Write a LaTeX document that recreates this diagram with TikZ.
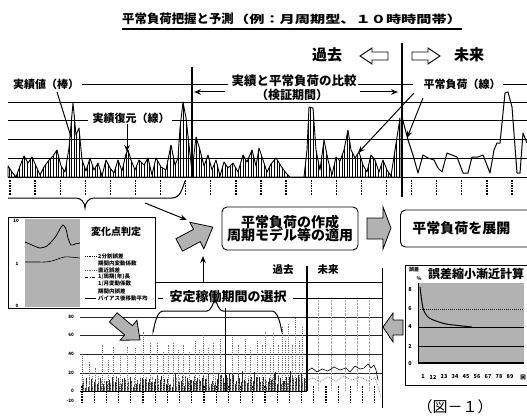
\documentclass[tikz,border=0pt]{standalone}
\usepackage{fontspec}
\setmainfont{Noto Sans CJK JP}
\usetikzlibrary{arrows.meta,patterns}
\pgfdeclarepatternformonly{vbars}{\pgfqpoint{0pt}{-1pt}}{\pgfqpoint{2.6pt}{11pt}}{\pgfqpoint{2.6pt}{10pt}}{\pgfsetlinewidth{0.75pt}\pgfpathmoveto{\pgfqpoint{1.3pt}{-1pt}}\pgfpathlineto{\pgfqpoint{1.3pt}{11pt}}\pgfusepath{stroke}}
\newcommand\fsz[1]{\fontsize{#1}{#1}\selectfont}
\begin{document}
\begin{tikzpicture}[x=1pt,y=-1pt,
  lbl/.style={inner sep=0.5pt,font=\fsz{11}\bfseries},
  gridl/.style={line width=0.6pt},
  tickm/.style={line width=1.3pt,dash pattern=on 1.6pt off 1pt},
  hollow/.style={draw,line width=0.9pt,fill=white},
  greyarrow/.style={draw,line width=0.8pt,fill=black!30},
  boxn/.style={draw,rounded corners=5pt,line width=0.9pt,align=center,inner sep=2pt},
  arr/.style={-{Stealth[length=7pt,width=5.5pt]},line width=1pt},
  tiny/.style={inner sep=0pt,font=\fsz{5.5}\bfseries},
  ylab/.style={inner sep=0pt,font=\fsz{4.5}\bfseries}]
\useasboundingbox (0,0) rectangle (527,417);
\clip (0,0) rectangle (527,417);
\fill[white] (0,0) rectangle (527,417);

% ---------- title ----------
\coordinate (ul1) at (122,29); \coordinate (ul2) at (462,29);
\draw[line width=1.3pt,black] (ul1) -- (ul2);
\node[anchor=west,inner sep=0pt,font=\fsz{12.4}\bfseries] (title) at (122,19) {平常負荷把握と予測};
\node[anchor=west,inner sep=0pt] (subtitle) at (title.east) {\scalebox{1.38}[1]{\fsz{11}\bfseries （例：月周期型、１０時時間帯）}};

% ---------- top: past / future ----------
\node[inner sep=0pt,font=\fsz{15}\bfseries] (kako) at (327,55) {過去};
\node[inner sep=0pt,font=\fsz{15}\bfseries] (mirai) at (469,55) {未来};
\draw[hollow] (360,56) -- (372,48) -- (372,52) -- (388,52) -- (388,60) -- (372,60) -- (372,64) -- cycle;
\draw[hollow] (440,56) -- (428,48) -- (428,52) -- (412,52) -- (412,60) -- (428,60) -- (428,64) -- cycle;

% ---------- top chart grid ----------
\draw[gridl] (8,102) -- (527,102);
\draw[gridl] (8,120) -- (88,120);
\draw[gridl] (172,120) -- (527,120);
\draw[gridl] (8,139) -- (527,139);
\draw[gridl] (8,158) -- (527,158);
\draw[line width=0.9pt] (8,177) -- (527,177);
\draw[gridl] (82,84) -- (228,84);
\draw[gridl] (358,84) -- (413,84);
\draw[gridl] (503,84) -- (527,84);

% bars + line (past)
\draw[pattern=vbars,line width=0.9pt,line join=round] (8,177) -- plot coordinates {(8,166) (12,172) (16,177) (20,166) (24,156) (28,163) (32,157) (36,166) (40,175) (44,167) (49,160) (53,156) (57,150) (61,166) (65,172) (69,148) (73,103) (76,135) (79,128) (82,160) (86,171) (90,158) (94,170) (98,163) (102,176) (106,160) (110,168) (114,173) (118,160) (122,171) (126,154) (128,150) (131,160) (135,170) (139,160) (144,165) (148,158) (152,175) (156,158) (161,167) (166,170) (171,145) (175,165) (178,158) (180,128) (183,102) (186,118) (189,145) (192,172) (196,137) (200,150) (204,166) (208,155) (212,170) (216,160) (220,176) (224,162) (228,168) (233,163) (238,172) (243,155) (247,162) (252,150) (256,166) (259,148) (263,160) (267,172) (271,164) (276,158) (281,166) (286,173) (290,177) (304,177) (307,150) (309,107) (313,108) (316,150) (320,170) (324,140) (328,160) (332,175) (336,157) (340,161) (344,150) (348,130) (351,150) (355,158) (359,152) (363,165) (367,172) (371,155) (375,160) (379,172) (383,160) (387,170) (391,176) (395,150) (400,118)} -- (400,177) -- cycle;
% line (future)
\draw[line width=1pt,line join=round] plot coordinates {(402,117) (408,140) (413,155) (418,173) (423,155) (428,158) (434,160) (438,168) (442,172) (447,153) (452,155) (457,157) (463,173) (468,173) (472,157) (478,157) (483,155) (490,173) (494,150) (497,143) (500,143) (505,93) (508,92) (512,107) (517,173) (520,173) (523,133) (527,143)};

% ticks
\foreach \k in {0,...,20} \draw[tickm] ({10+25.1*\k},180) -- ({10+25.1*\k},195);

% dividers
\coordinate (v1a) at (192,67); \coordinate (v1b) at (192,177);
\draw[line width=1.5pt] (v1a) -- (v1b);
\coordinate (v2a) at (402,43); \coordinate (v2b) at (402,197);
\draw[line width=1.5pt] (v2a) -- (v2b);

% labels top
\node[lbl] (jisseki) at (46,84) {実績値（棒）};
\node[lbl] (fukugen) at (131,118) {実績復元（線）};
\node[lbl,font=\fsz{12.5}\bfseries] (hikaku) at (294,81) {実績と平常負荷の比較};
\node[lbl,font=\fsz{12}\bfseries] (kensho) at (292,95) {（検証期間）};
\node[lbl] (heijo) at (462,84) {平常負荷（線）};

\coordinate (p1a) at (57,92); \coordinate (p1b) at (72,140);
\draw[line width=1pt] (p1a) -- (p1b);
\coordinate (p2a) at (127,124); \coordinate (p2b) at (127,152);
\draw[arr] (p2a) -- (p2b);
\coordinate (p3a) at (225,92); \coordinate (p3b) at (194,92);
\draw[arr] (p3a) -- (p3b);
\coordinate (p4a) at (360,92); \coordinate (p4b) at (398,92);
\draw[arr] (p4a) -- (p4b);
\coordinate (p5a) at (414,93); \coordinate (p5b) at (358,153);
\draw[arr] (p5a) -- (p5b);
\coordinate (p6a) at (423,98); \coordinate (p6b) at (407,138);
\draw[arr] (p6a) -- (p6b);

% brace under top chart
\draw[line width=1pt] (8,198) -- (76,198) to[out=0,in=90] (85,208) to[out=90,in=180] (94,198) -- (172,198) to[out=0,in=-110] (185,181);
\coordinate (b1a) at (145,203); \coordinate (b1b) at (187,220);
\draw[arr] (b1a) -- (b1b);

% grey tilted arrow
\begin{scope}[shift={(196,236)},rotate=28]
\draw[greyarrow] (-19,-7) -- (1,-7) -- (1,-15) -- (19,0) -- (1,15) -- (1,7) -- (-19,7) -- cycle;
\end{scope}

% boxes
\node[boxn,minimum width=136pt,minimum height=43pt,font=\fsz{14}\bfseries] (box1) at (290,228.5) {平常負荷の作成\\[-1pt]周期モデル等の適用};
\draw[greyarrow] (367,218) -- (383,218) -- (383,207) -- (391,228) -- (383,249) -- (383,239) -- (367,239) -- cycle;
\node[boxn,minimum width=134pt,minimum height=37pt,font=\fsz{14}\bfseries,anchor=west] (box2) at (400,228.5) {\hspace*{-6pt}平常負荷を展開\hspace*{6pt}};

% up arrow
\coordinate (u1a) at (203,282); \coordinate (u1b) at (203,256);
\draw[arr] (u1a) -- (u1b);

% ---------- bottom chart ----------
\draw[gridl] (153,282) -- (382,282);
\draw[gridl] (158,298) -- (163,298);
\draw[gridl] (293,298) -- (382,298);
\foreach \yy in {317,335,354,373} \draw[gridl,black!85] (80,\yy) -- (382,\yy);
\draw[gridl] (80,391) -- (307,391);
\draw[line width=0.8pt] (382,268) -- (382,408);
\foreach \yy/\tt in {317/80,335/60,354/40,373/20,391/0,401/-20} \node[ylab,anchor=east] (yl\tt) at (74,\yy) {\tt};
% future dotted verticals
\foreach \xx in {318,331,345,357,369} \draw[black!35,densely dotted] (\xx,300) -- (\xx,390);
% noise
\pgfmathsetseed{12}
\foreach \i in {0,...,148}{
  \pgfmathsetmacro\xx{82+1.5*\i}
  \pgfmathsetmacro\hh{3+11*rnd+9*rnd*\i/148}
  \draw[line width=0.5pt,black!85] (\xx,391) -- (\xx,391-\hh);
}
\foreach \i in {0,...,74}{
  \pgfmathsetmacro\xx{83+3*\i}
  \pgfmathsetmacro\hh{6+10*rnd}
  \draw[line width=0.6pt,black!45,densely dotted] (\xx,391) -- (\xx,391-\hh);
}
\foreach \xx/\yy/\cc in {82/353/b,89/362/g,95/368/b,102/345/g,108/360/b,113/347/b,120/355/g,127/347/g,135/348/b,143/332/b,150/343/g,157/343/b,163/352/g,168/345/b,173/343/g,178/350/b,183/345/b,189/352/g,195/340/g,199/350/b,203/335/b,208/348/g,213/343/b,220/338/g,232/337/b,238/345/g,245/338/b,250/350/g,257/340/b,262/345/g,265/332/g,270/348/b,273/333/g,278/345/b,282/327/b,285/340/g,288/323/g,292/345/b,295/318/b,299/340/g,302/327/g}{
  \ifx\cc b
    \draw[line width=0.9pt] (\xx,391) -- (\xx,\yy);
  \else
    \draw[line width=0.9pt,black!55,densely dotted] (\xx,391) -- (\xx,\yy);
  \fi
}
\draw[line width=1pt] (225,391) -- (225,308);
% future curves
\draw[black!50,densely dotted,line width=0.8pt] plot coordinates {(307,380) (313,378) (320,382) (328,377) (336,381) (344,376) (352,380) (360,377) (368,381) (375,378) (378,386) (381,398)};
\draw[line width=0.6pt] plot coordinates {(307,371) (312,368) (317,372) (322,369) (328,371) (334,367) (340,370) (346,368) (350,372) (355,366) (360,369) (364,368) (368,364) (371,368) (374,365) (376,370) (378,380)};
% ticks
\foreach \k in {0,...,24} \draw[tickm,line width=1.1pt] ({82+12.2*\k},386) -- ({82+12.2*\k},402);

\coordinate (v3a) at (307,266); \coordinate (v3b) at (307,391);
\draw[line width=1.4pt] (v3a) -- (v3b);
\node[lbl,font=\fsz{10.5}\bfseries] (kako2) at (283,270) {過去};
\node[lbl,font=\fsz{10.5}\bfseries] (mirai2) at (328,270) {未来};
\node[lbl,fill=white,font=\fsz{13}\bfseries,inner xsep=3pt] (antei) at (228,297) {安定稼働期間の選択};

% bottom brace
\draw[line width=1pt] (153,330) to[out=-90,in=180] (163,311) -- (207,311) to[out=0,in=90] (215,301) to[out=90,in=180] (223,311) -- (272,311) to[out=0,in=-90] (282,330);

% grey arrow down-right
\begin{scope}[shift={(127,329)},rotate=-40]
\draw[greyarrow] (-18,-6) -- (2,-6) -- (2,-13) -- (17,0) -- (2,13) -- (2,6) -- (-18,6) -- cycle;
\end{scope}

% ---------- left inset ----------
\draw[line width=0.8pt,fill=white] (8,217) rectangle (155,308);
\fill[black!30] (25,219) rectangle (80,307);
\node[ylab] (l10) at (16,221) {10};
\node[ylab] (l1) at (17,264) {1};
\node[ylab] (l0) at (17,306) {0};
\draw[line width=0.8pt] plot[smooth] coordinates {(25,242) (32,245) (40,248) (47,246) (52,241) (56,236) (60,229) (63,225) (66,229) (68,238) (71,245) (75,244) (80,243)};
\draw[line width=0.6pt] plot[smooth] coordinates {(25,262) (35,262) (45,262) (52,261) (58,259) (64,257) (70,257) (80,258)};
\node[inner sep=0pt,font=\fsz{10}\bfseries] (henka) at (116,232) {変化点判定};
\foreach \yy/\tt/\ss in {256/{2分割誤差}/1,263/{期間内変動係数}/0,270/{直近誤差}/2,277/{1/周期(年)長}/3,284/{1/月変動係数}/0,291/{期間内誤差}/0,298/{バイアス後移動平均}/4}{
  \node[tiny,anchor=west] (lg\yy) at (98,\yy) {\tt};
  \ifcase\ss\or
    \draw[densely dotted,line width=0.8pt] (85,\yy) -- (96,\yy);
  \or
    \draw[densely dotted,black!60,line width=0.8pt] (85,\yy) -- (96,\yy);
  \or
    \draw[dash dot,line width=0.6pt] (85,\yy) -- (96,\yy);
  \or
    \draw[line width=0.6pt] (85,\yy) -- (96,\yy);
  \fi
}

% ---------- right inset ----------
\draw[greyarrow] (383,327) -- (393,313) -- (393,320) -- (403,320) -- (403,335) -- (393,335) -- (393,342) -- cycle;
\draw[line width=0.8pt] (405,265) rectangle (532,385);
\fill[black!30] (418,283) rectangle (524,363);
\draw[densely dotted,line width=1pt] (418,309) -- (524,309);
\draw[line width=0.6pt] (418,327) -- (524,327);
\draw[line width=0.6pt] (418,346) -- (524,346);
\draw[line width=1.2pt] (418,363) -- (524,363);
\draw[line width=0.6pt] (418,283) -- (418,363);
\draw[line width=1pt] plot[smooth] coordinates {(420,287) (423,308) (428,317) (436,321) (446,324) (458,325.5) (472,327)};
\node[ylab,font=\fsz{5}\bfseries] (gosa) at (414,270) {誤差};
\node[ylab,font=\fsz{5}\bfseries] (pct) at (419,279) {\%};
\node[inner sep=0pt,font=\fsz{12}\bfseries] (rtitle) at (476,274) {誤差縮小漸近計算};
\foreach \yy/\tt in {290/8,309/6,327/4,346/2,363/0} \node[ylab,font=\fsz{5.5}\bfseries] (ry\tt) at (410,\yy) {\tt};
\foreach \xx/\tt in {423/1,433/12,444/23,455/34,466/45,477/56,488/67,499/78,510/89,523/回} \node[ylab,font=\fsz{5.5}\bfseries] (rx\xx) at (\xx,377) {\tt};

% figure label
\node[inner sep=0pt,font=\fsz{15}] (fig) at (455,407) {（図－１）};
\end{tikzpicture}
\end{document}
